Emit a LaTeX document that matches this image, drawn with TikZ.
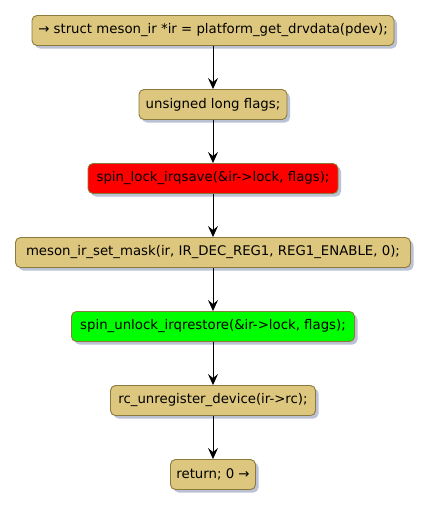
\documentclass[tikz,border=0pt]{standalone}
\usepackage{fontspec}
\setmainfont{DejaVu Sans}
\usetikzlibrary{arrows.meta,shadows}
\definecolor{boxfill}{HTML}{DDC77E}
\definecolor{boxline}{HTML}{8C7A3C}
\definecolor{shadowc}{HTML}{8C99B8}
\definecolor{redfill}{HTML}{FF0000}
\definecolor{greenfill}{HTML}{00FF00}
\tikzset{
  actbox/.style={draw=boxline, line width=0.9pt, fill=boxfill, rounded corners=5pt,
    minimum height=30pt, inner xsep=0pt, inner ysep=0pt, anchor=center,
    font=\fontsize{13.3pt}{15pt}\selectfont, text=black,
    drop shadow={shadow xshift=3pt, shadow yshift=-3pt, fill=shadowc, opacity=0.6}},
  flow/.style={-{Stealth[length=11pt,width=10pt,inset=4pt]}, line width=1pt, black}
}
\begin{document}
\begin{tikzpicture}[x=1pt,y=1pt]
\useasboundingbox (0,0) rectangle (430,-507);
\node[actbox, minimum width=362pt] (n1) at (213,-30.5) {→ struct meson\_ir *ir = platform\_get\_drvdata(pdev);};
\node[actbox, minimum width=148pt] (n2) at (213,-104.5) {unsigned long flags;};
\node[actbox, minimum width=250pt, fill=redfill] (n3) at (213,-178.5) {spin\_lock\_irqsave(\&ir->lock, flags);};
\node[actbox, minimum width=395pt] (n4) at (213,-252.5) {meson\_ir\_set\_mask(ir, IR\_DEC\_REG1, REG1\_ENABLE, 0);};
\node[actbox, minimum width=283pt, fill=greenfill] (n5) at (213,-326.5) {spin\_unlock\_irqrestore(\&ir->lock, flags);};
\node[actbox, minimum width=205pt] (n6) at (213,-400.5) {rc\_unregister\_device(ir->rc);};
\node[actbox, minimum width=85pt] (n7) at (213,-474.5) {return; 0 →};
\draw[flow] (n1) -- (n2);
\draw[flow] (n2) -- (n3);
\draw[flow] (n3) -- (n4);
\draw[flow] (n4) -- (n5);
\draw[flow] (n5) -- (n6);
\draw[flow] (n6) -- (n7);
\end{tikzpicture}
\end{document}
